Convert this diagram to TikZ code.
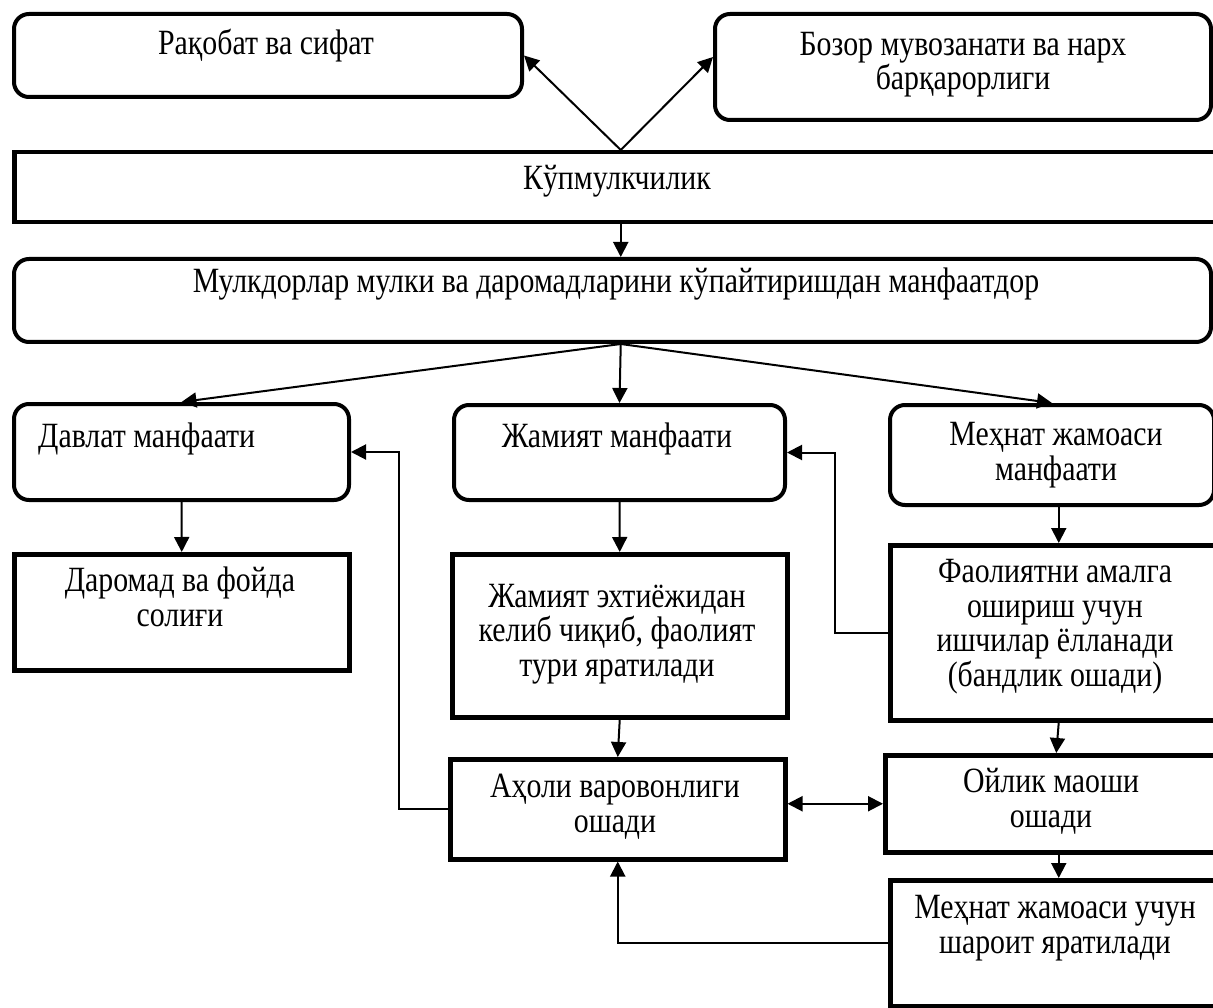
\documentclass[tikz,border=0pt]{standalone}
\usepackage{fontspec}
\setmainfont{Liberation Serif}[FakeStretch=0.84]
\usetikzlibrary{arrows.meta,calc}
\begin{document}
\begin{tikzpicture}[x=1pt,y=-1pt,
  rbox/.style={draw, line width=4pt, rounded corners=15pt, inner sep=0pt, anchor=north west},
  sbox/.style={draw, line width=4.5pt, inner sep=0pt, anchor=north west},
  lbl/.style={font=\fontsize{35.5}{34.5}\selectfont, inner sep=0pt, anchor=base, align=center},
  arr/.style={line width=2pt, -{Triangle[length=15pt,width=15pt]}},
  darr/.style={line width=2pt, {Triangle[length=15pt,width=15pt]}-{Triangle[length=15pt,width=15pt]}}]
\useasboundingbox (0,0) rectangle (1213,1008);
\clip (0,0) rectangle (1213,1008);
% boxes
\node[rbox, minimum width=508pt, minimum height=83pt]  (b1)  at (12,12)  {};
\node[rbox, minimum width=496pt, minimum height=106pt] (b2)  at (713,12) {};
\node[sbox, minimum width=1213pt, minimum height=70pt] (b3)  at (12,150) {};
\node[rbox, minimum width=1197pt, minimum height=83pt] (b4)  at (12,257) {};
\node[rbox, minimum width=335pt, minimum height=96pt]  (b5)  at (12,402) {};
\node[rbox, minimum width=331pt, minimum height=95pt]  (b6)  at (452,403) {};
\node[rbox, minimum width=324pt, minimum height=100pt] (b7)  at (888,403) {};
\node[sbox, minimum width=335pt, minimum height=116pt] (b8)  at (12,552) {};
\node[sbox, minimum width=335pt, minimum height=163pt] (b9)  at (450,552) {};
\node[sbox, minimum width=337pt, minimum height=175pt] (b10) at (888,543) {};
\node[sbox, minimum width=335pt, minimum height=100pt] (b11) at (448,757) {};
\node[sbox, minimum width=342pt, minimum height=97pt]  (b12) at (883,753) {};
\node[sbox, minimum width=337pt, minimum height=126pt] (b13) at (888,878) {};
% texts (anchor = baseline of the last line)
\node[lbl] (t1)  at (266,55)  {Рақобат ва сифат};
\node[lbl] (t2)  at (963,90)  {Бозор мувозанати ва нарх\\барқарорлиги};
\node[lbl] (t3)  at (617,190) {Кўпмулкчилик};
\node[lbl] (t4)  at (616,293) {Мулкдорлар мулки ва даромадларини кўпайтиришдан манфаатдор};
\node[lbl, anchor=base west] (t5) at (38,447) {Давлат манфаати};
\node[lbl] (t6)  at (617,447) {Жамият манфаати};
\node[lbl] (t7)  at (1056,480) {Меҳнат жамоаси\\манфаати};
\node[lbl] (t8)  at (180,626) {Даромад ва фойда\\солиғи};
\node[lbl] (t9)  at (617,676) {Жамият эхтиёжидан\\келиб чиқиб, фаолият\\тури яратилади};
\node[lbl] (t10) at (1055,686) {Фаолиятни амалга\\ошириш учун\\ишчилар ёлланади\\(бандлик ошади)};
\node[lbl] (t11) at (615,832) {Аҳоли варовонлиги\\ошади};
\node[lbl] (t12) at (1051,827) {Ойлик маоши\\ошади};
\node[lbl] (t13) at (1055,953) {Меҳнат жамоаси учун\\шароит яратилади};
% connectors
\coordinate (hub) at (b3.south |- b4.south);
\draw[arr] (b3.north) -- (b1.east);
\draw[arr] (b3.north) -- ($(b2.west)+(0,-10)$);
\draw[arr] (b3.south) -- (b3.south |- b4.north);
\draw[arr] (hub) -- (b5.north);
\draw[arr] (hub) -- (b6.north);
\draw[arr] (hub) -- (b7.north);
\draw[arr] (b5.south) -- (b8.north);
\draw[arr] (b6.south) -- (b9.north);
\draw[arr] (b10.north |- b7.south) -- (b10.north);
\draw[arr] (b9.south) -- (b11.north);
\draw[arr] (b10.south) -- (b12.north);
\draw[arr] (b13.north |- b12.south) -- (b13.north);
\draw[darr] (b11.east |- b12.west) -- (b12.west);
\draw[arr] (b10.west) -- ++(-53,0) |- (b6.east);
\draw[arr] (b11.west) -- ++(-49,0) |- (b5.east);
\draw[arr] (b13.west) -| (b11.south);
\end{tikzpicture}
\end{document}
